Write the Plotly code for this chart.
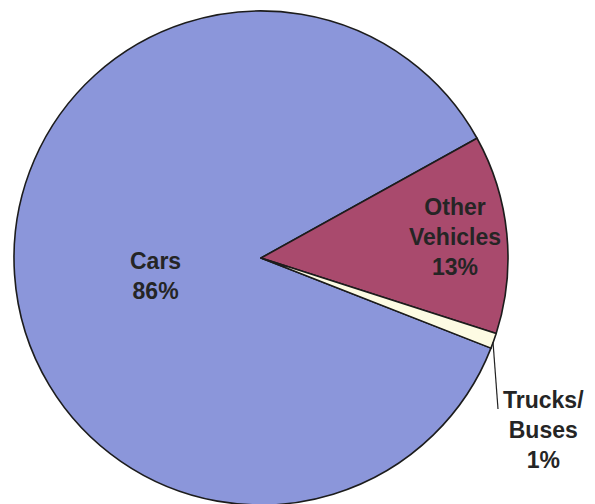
import plotly.graph_objects as go

labels = ['Cars', 'Other Vehicles', 'Trucks/Buses']
values = [86, 13, 1]
label_text = ['<b>Cars<br>86%</b>', '<b>Other<br>Vehicles<br>13%</b>', '<b>Trucks/<br>Buses<br>1%</b>']
colors = ['#8b96da', '#a94a6d', '#fdfbe3']

FONT = 'Liberation Sans, Arial, sans-serif'
W, H = 595, 504
OFF = 8  # page body margin


def px(x):
    return (x - OFF) / W


def py(y):
    return 1 - (y - OFF) / H


fig = go.Figure(go.Pie(
    labels=labels,
    values=values,
    sort=False,
    direction='clockwise',
    rotation=111.4,
    marker=dict(colors=colors, line=dict(color='#1c1c1c', width=1.6)),
    textinfo='none',
    hoverinfo='label+percent',
    domain=dict(x=[px(14), px(508)], y=[py(505), py(11)]),
    showlegend=False,
))

# slice labels placed like the original
label_pos = [(155, 276), (455, 237), (543, 430)]
for txt, (lx, ly) in zip(label_text, label_pos):
    fig.add_annotation(
        x=px(lx), y=py(ly), xref='paper', yref='paper',
        xanchor='center', yanchor='middle',
        text=txt, showarrow=False, align='center',
        font=dict(family=FONT, size=23, color='#252525'),
    )

# leader line for the small slice
fig.add_shape(type='line', xref='paper', yref='paper',
              x0=px(493), y0=py(342), x1=px(498), y1=py(409),
              line=dict(color='#222222', width=1.2))

fig.update_layout(
    width=W, height=H,
    margin=dict(l=0, r=0, t=0, b=0),
    paper_bgcolor='white',
    plot_bgcolor='white',
)

fig.write_html("out.html")
